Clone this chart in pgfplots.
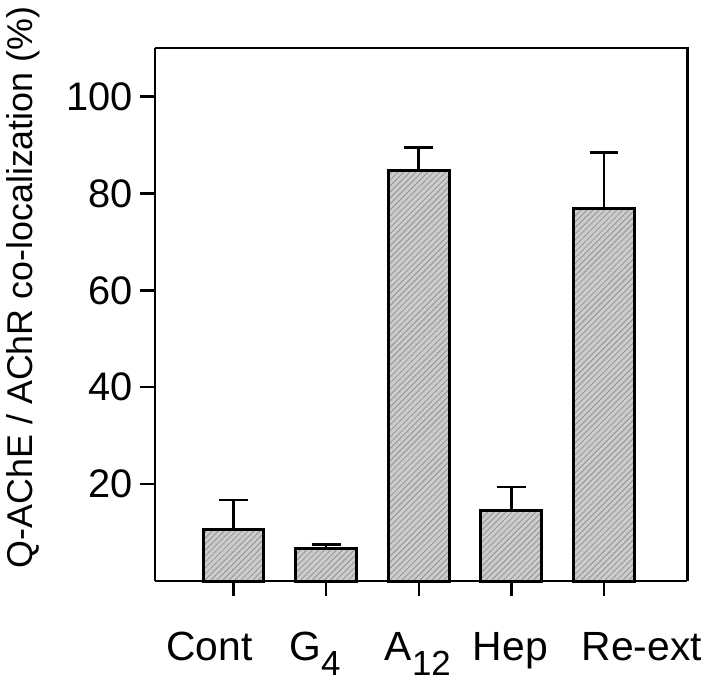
\documentclass[border=0pt]{standalone}
\usepackage{pgfplots}
\pgfplotsset{compat=1.18}
\usepackage{fontspec}
\setmainfont{Liberation Sans}
\usetikzlibrary{patterns}
\newcommand{\sub}[1]{\raisebox{-7.5pt}{\fontsize{17.5}{20}\selectfont #1}}

\begin{document}
\begin{tikzpicture}
\begin{axis}[
    scale only axis,
    width=267.5pt, height=267.75pt,
    xmin=-0.85, xmax=4.9,
    ymin=0, ymax=110,
    axis line style={line width=1.3pt},
    axis x line*=bottom, axis y line*=left,
    every outer x axis line/.append style={-},
    every outer y axis line/.append style={-},
    xtick={0,1,2,3,4},
    xticklabel=\empty,
    ytick={20,40,60,80,100},
    tick align=outside,
    major tick length=7.5pt,
    tick style={line width=1.2pt, black},
    /pgf/number format/assume math mode=true,
    tick label style={font=\fontsize{20}{24}\selectfont},
    ylabel={Q-AChE / AChR co-localization (\%)},
    ylabel style={font=\fontsize{18}{21}\selectfont,
                  at={(axis description cs:-0.247,0.551)}, anchor=center},
    clip=false,
]
% top and right frame lines
\draw[line width=1.3pt] (rel axis cs:0,1) -- (rel axis cs:1,1) -- (rel axis cs:1,0);

\addplot[ybar, bar width=30.5pt, draw=black, line width=1.5pt,
         fill=gray!40,
         postaction={pattern=north east lines, pattern color=gray!85},
         error bars/.cd, y dir=plus, y explicit,
         error bar style={line width=1.3pt, black},
         error mark options={rotate=90, mark size=7.25pt, line width=1.3pt, black}]
  coordinates {
    (0,10.6) +- (0,6.1)
    (1,6.7)  +- (0,0.8)
    (2,84.8) +- (0,4.7)
    (3,14.5) +- (0,4.9)
    (4,76.8) +- (0,11.7)
  };

% category labels, placed as in the original
\begin{scope}[every node/.style={anchor=base, font=\fontsize{20.5}{24}\selectfont,
                                 inner xsep=0pt, inner ysep=4pt}]
\node at ([yshift=-40pt]axis cs:-0.26,0) {Cont};
\node at ([yshift=-40pt]axis cs:0.88,0) {G\sub{4}};
\node at ([yshift=-40pt]axis cs:1.99,0) {A\sub{12}};
\node at ([yshift=-40pt]axis cs:2.99,0) {Hep};
\node at ([yshift=-40pt]axis cs:4.41,0) {Re-ext};
\end{scope}
\end{axis}
\end{tikzpicture}
\end{document}
